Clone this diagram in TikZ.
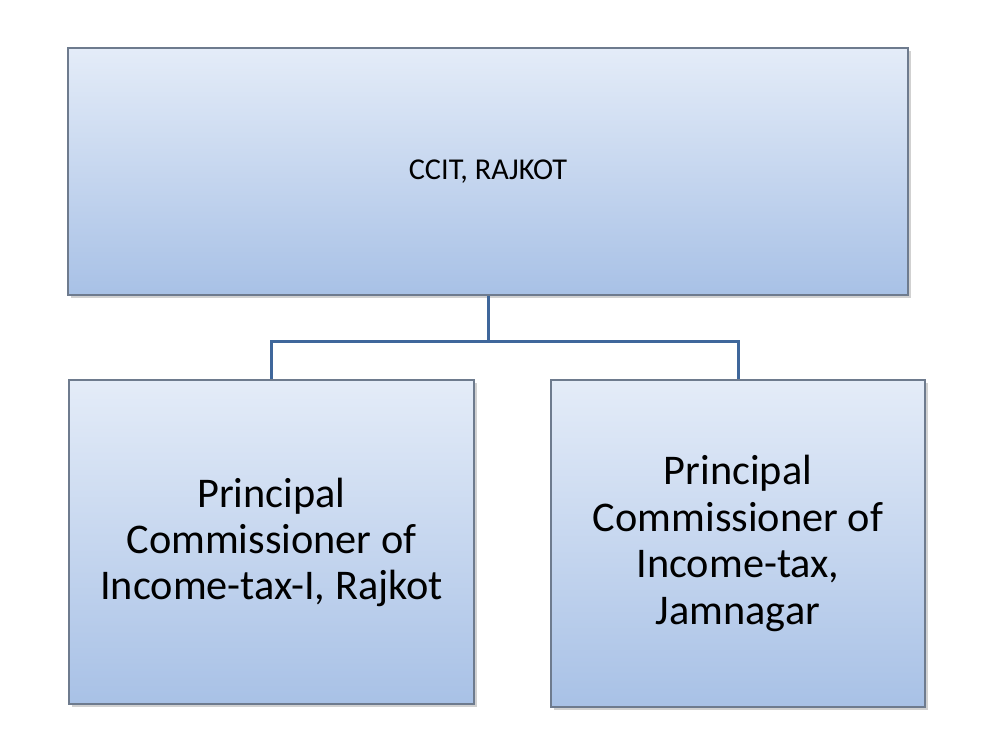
\documentclass[tikz,border=0pt]{standalone}
\usepackage{fontspec}
\setmainfont{Carlito}
\usetikzlibrary{positioning}
\definecolor{boxtop}{HTML}{E4ECF8}
\definecolor{boxbot}{HTML}{A8C1E6}
\definecolor{boxedge}{HTML}{6E7B8E}
\definecolor{linkblue}{HTML}{3F679B}
\tikzset{
  orgbox/.style={draw=boxedge, line width=1.2pt, top color=boxtop, bottom color=boxbot,
    inner sep=0pt, align=center, text=black},
  shadowbox/.style={fill=black!18, draw=none},
  link/.style={draw=linkblue, line width=3pt}
}
\begin{document}
\begin{tikzpicture}[x=1pt,y=-1pt]
\useasboundingbox (0,0) rectangle (993,752);
% shadows
\fill[shadowbox] (71,51) rectangle (911,298);
\fill[shadowbox] (72,383) rectangle (477,707);
\fill[shadowbox] (554,383) rectangle (928,710);
\node[orgbox, minimum width=840pt, minimum height=247pt,
  font=\fontsize{30.3}{35}\selectfont] (top) at (488,171.5) {CCIT, RAJKOT};
\node[orgbox, minimum width=405pt, minimum height=324pt,
  font=\fontsize{42.3}{46}\selectfont] (left) at (271.5,542) {Principal\\Commissioner of\\Income-tax-I, Rajkot};
\node[orgbox, minimum width=374pt, minimum height=327pt,
  font=\fontsize{42.3}{46.5}\selectfont] (right) at (738,543.5) {Principal\\Commissioner of\\Income-tax,\\Jamnagar};
\coordinate (j) at (488,341);
\draw[link] (top.south) -- (j);
\draw[link] (left.north) |- (j) -| (right.north);
\end{tikzpicture}
\end{document}
